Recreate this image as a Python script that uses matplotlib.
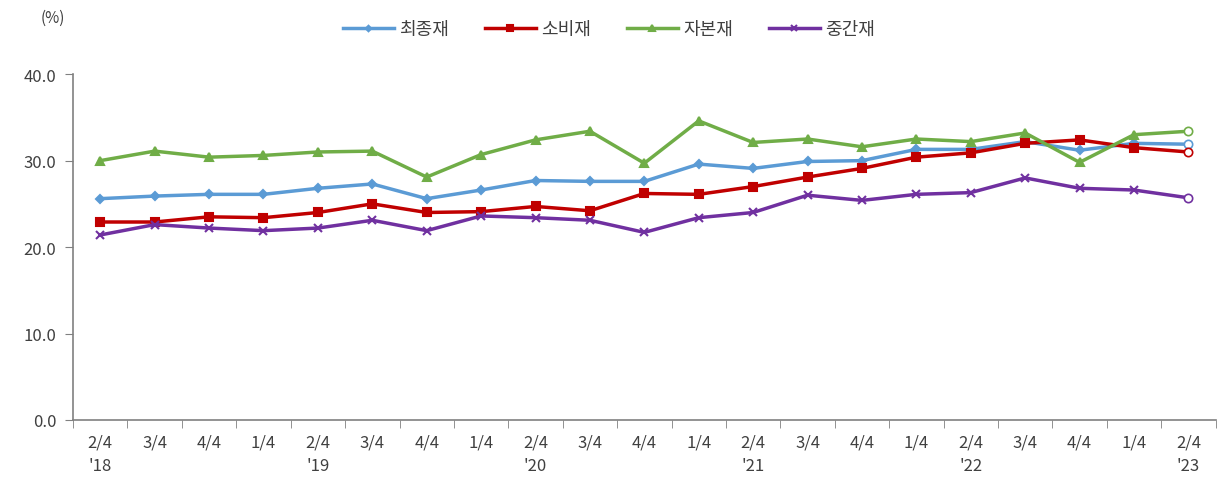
import matplotlib
matplotlib.use("Agg")
import matplotlib.pyplot as plt
import numpy as np

plt.rcParams['font.family'] = ['Noto Sans CJK KR', 'DejaVu Sans']

quarters = ["2/4\n'18", "3/4", "4/4", "1/4", "2/4\n'19", "3/4", "4/4", "1/4",
            "2/4\n'20", "3/4", "4/4", "1/4", "2/4\n'21", "3/4", "4/4", "1/4",
            "2/4\n'22", "3/4", "4/4", "1/4", "2/4\n'23"]

final_goods = [25.6, 25.9, 26.1, 26.1, 26.8, 27.3, 25.6, 26.6, 27.7, 27.6, 27.6,
               29.6, 29.1, 29.9, 30.0, 31.3, 31.3, 32.2, 31.2, 32.0, 31.9]
consumer = [22.9, 22.9, 23.5, 23.4, 24.0, 25.0, 24.0, 24.1, 24.7, 24.2, 26.2,
            26.1, 27.0, 28.1, 29.1, 30.4, 30.9, 32.0, 32.4, 31.5, 31.0]
capital = [30.0, 31.1, 30.4, 30.6, 31.0, 31.1, 28.1, 30.7, 32.4, 33.4, 29.7,
           34.6, 32.1, 32.5, 31.6, 32.5, 32.2, 33.2, 29.8, 33.0, 33.4]
intermediate = [21.4, 22.6, 22.2, 21.9, 22.2, 23.1, 21.9, 23.6, 23.4, 23.1, 21.7,
                23.4, 24.0, 26.0, 25.4, 26.1, 26.3, 28.0, 26.8, 26.6, 25.7]

series = [
    ("최종재", final_goods, "#5B9BD5", "D", 4),
    ("소비재", consumer, "#C00000", "s", 6),
    ("자본재", capital, "#70AD47", "^", 6),
    ("중간재", intermediate, "#7030A0", "x", 6),
]

fig = plt.figure(figsize=(12.18, 4.85), dpi=100)
ax = fig.add_axes([0.06, 0.132, 0.938, 0.713])

x = np.arange(len(quarters))
for name, vals, col, mk, ms in series:
    ax.plot(x[:-1], vals[:-1], color=col, lw=2.5, marker=mk, ms=ms,
            mew=1.5, label=name)
    # last point: provisional, hollow circle
    ax.plot(x[-2:], vals[-2:], color=col, lw=2.5)
    ax.plot(x[-1], vals[-1], marker='o', ms=6, mfc='white', mec=col, mew=1.2)

ax.set_xlim(-0.5, len(quarters) - 0.5)
ax.set_ylim(0, 40)
ax.set_yticks([0, 10, 20, 30, 40])
ax.set_yticklabels([f"{v:.1f}" for v in [0, 10, 20, 30, 40]])
ax.set_xticks(x)
ax.set_xticklabels(quarters)
ax.set_xticks(np.arange(-0.5, len(quarters)), minor=True)
ax.tick_params(axis='x', which='major', length=0, pad=10)
ax.tick_params(axis='x', which='minor', length=6, color='#808080')
ax.tick_params(axis='y', length=6, color='#808080', pad=6)
ax.tick_params(labelsize=12, labelcolor='#404040')
for lbl in ax.get_xticklabels():
    lbl.set_linespacing(1.5)

for s in ['top', 'right']:
    ax.spines[s].set_visible(False)
for s in ['left', 'bottom']:
    ax.spines[s].set_color('#808080')
    ax.spines[s].set_linewidth(1.2)

fig.text(0.043, 0.963, "(%)", fontsize=11, color='#404040', va='center', ha='center')

leg = fig.legend(*ax.get_legend_handles_labels(), loc='center',
                 bbox_to_anchor=(0.5, 0.938), ncol=4,
                 frameon=False, fontsize=13, handlelength=2.8, columnspacing=2.0,
                 markerscale=0.7, handletextpad=0.3)
for t in leg.get_texts():
    t.set_color('#404040')

fig.savefig("out.png", dpi=100)
